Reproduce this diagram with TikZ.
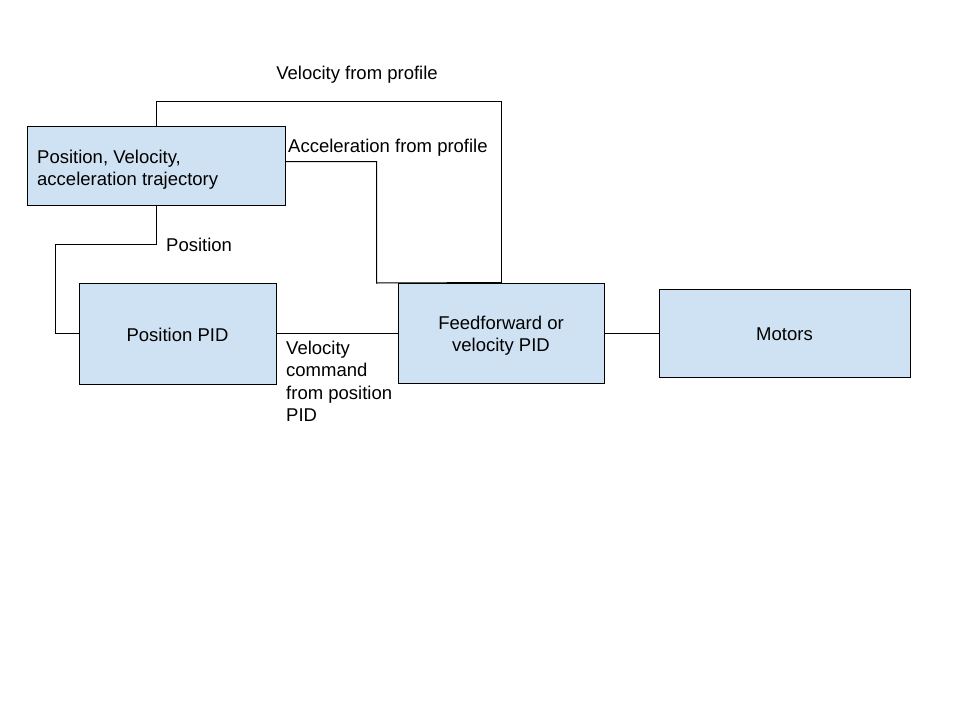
\documentclass[tikz,border=0pt]{standalone}
\usepackage{fontspec}
\setmainfont{Liberation Sans}
\definecolor{boxblue}{HTML}{CFE2F3}
\tikzset{
  blk/.style={draw=black, line width=0.9pt, fill=boxblue, inner sep=0pt},
  conn/.style={draw=black, line width=1pt},
  lbl/.style={inner sep=0pt, font=\fontsize{18.5}{22.3}\selectfont},
}
\begin{document}
\begin{tikzpicture}[x=1pt,y=-1pt]
\useasboundingbox (0,0) rectangle (960,720);
\fill[white] (0,0) rectangle (960,720);
% boxes
\node[blk, minimum width=258pt, minimum height=79pt] (traj) at (156,165.5) {};
\node[lbl, anchor=west, align=left] (trajt) at (37,170) {Position, Velocity,\\acceleration trajectory};
\node[blk, minimum width=197pt, minimum height=101pt] (ppid) at (177.5,333.5) {};
\node[lbl] (ppidt) at (177.5,334.5) {Position PID};
\node[blk, minimum width=206pt, minimum height=100pt] (ff) at (501,333) {};
\node[lbl, align=center] (fft) at (501,335.5) {Feedforward or\\velocity PID};
\node[blk, minimum width=251pt, minimum height=88pt] (mot) at (784.5,333) {};
\node[lbl] (mott) at (784.5,334.5) {Motors};
% coordinates
\coordinate (v1) at (156,101);
\coordinate (v2) at (501,101);
\coordinate (a1) at (376.5,161.5);
\coordinate (a2) at (376.5,283);
\coordinate (p1) at (156,244);
\coordinate (p2) at (55,244);
\coordinate (p3) at (55,333.5);
\coordinate (c1) at (338,333.5);
% connectors
\draw[conn] (traj.east |- a1) -- (a1) -- (a2) -- (ff.north);
\draw[conn] (traj.north) -- (v1) -- (v2) -- (ff.north);
\draw[conn] (traj.south) -- (p1) -- (p2) -- (p3) -- (ppid.west);
\draw[conn] (ppid.east) -- (c1) |- (ff.west);
\draw[conn] (ff.east) -- (mot.west);
% labels
\node[lbl] (lv) at (357,75) {Velocity from profile};
\node[lbl, anchor=west] (la) at (288,148) {Acceleration from profile};
\node[lbl, anchor=west] (lp) at (166,245) {Position};
\node[lbl, anchor=north west, align=left] (lc) at (286,341) {Velocity\\command\\from position\\PID};
\end{tikzpicture}
\end{document}
